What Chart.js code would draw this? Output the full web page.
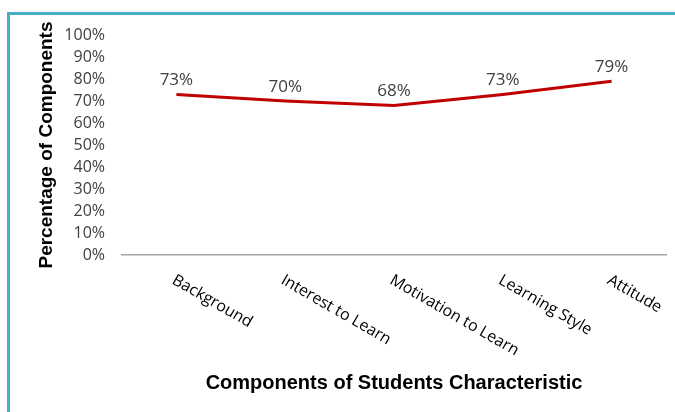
<!DOCTYPE html>
<html>
<head>
<meta charset="utf-8">
<script src="https://cdn.jsdelivr.net/npm/chart.js@4/dist/chart.umd.min.js"></script>
<style>
  html, body { margin: 0; padding: 0; background: #fff; }
  #wrap { position: relative; width: 675px; height: 412px; }
  #frame {
    position: absolute; left: 7px; top: 12px; right: 0; bottom: 0;
    border-left: 3px solid #4bacc6; border-top: 3px solid #4bacc6;
    pointer-events: none;
  }
</style>
</head>
<body>
<div id="wrap">
  <canvas id="lineChart" width="675" height="412"></canvas>
  <div id="frame"></div>
</div>
<script>
// --- data ---
const categories = ["Background", "Interest to Learn", "Motivation to Learn", "Learning Style", "Attitude"];
const percentages = [73, 70, 68, 73, 79];
const yTicks = [0, 10, 20, 30, 40, 50, 60, 70, 80, 90, 100];

const textColor = "#404040";

// value labels above each point
const valueLabels = {
  id: "valueLabels",
  afterDatasetsDraw(chart) {
    const ctx = chart.ctx;
    const meta = chart.getDatasetMeta(0);
    ctx.save();
    ctx.font = "17px 'Open Sans'";
    ctx.fillStyle = textColor;
    ctx.textAlign = "center";
    ctx.textBaseline = "middle";
    meta.data.forEach((pt, i) => {
      ctx.fillText(percentages[i] + "%", pt.x, pt.y - 14);
    });
    ctx.restore();
  }
};

// category labels slanted down to the right
const slantedLabels = {
  id: "slantedLabels",
  afterDraw(chart) {
    const ctx = chart.ctx;
    const x = chart.scales.x;
    ctx.save();
    ctx.font = "16px 'Open Sans'";
    ctx.fillStyle = "#000";
    ctx.textAlign = "left";
    ctx.textBaseline = "top";
    categories.forEach((name, i) => {
      ctx.save();
      ctx.translate(x.getPixelForValue(i) + 1, x.top + 17);
      ctx.rotate(30 * Math.PI / 180);
      ctx.fillText(name, 0, 0);
      ctx.restore();
    });
    ctx.restore();
  }
};

new Chart(document.getElementById("lineChart").getContext("2d"), {
  type: "line",
  data: {
    labels: categories,
    datasets: [{
      data: percentages,
      borderColor: "#c00000",
      borderWidth: 3,
      pointRadius: 0,
      tension: 0,
      fill: false
    }]
  },
  options: {
    responsive: false,
    animation: false,
    layout: { padding: { top: 35, right: 9, left: 0, bottom: 0 } },
    plugins: {
      legend: { display: false },
      tooltip: { enabled: false }
    },
    scales: {
      x: {
        offset: true,
        grid: { display: false, drawTicks: false },
        border: { display: true, color: "#a6a6a6", width: 1.5 },
        ticks: { display: false },
        title: {
          display: true,
          text: "Components of Students Characteristic",
          color: "#000",
          font: { family: "'Liberation Sans', Arial", size: 20, weight: "bold" },
          padding: { top: 0, bottom: 17 }
        },
        afterFit(scale) { scale.height = 157; }
      },
      y: {
        min: 0,
        max: 100,
        afterBuildTicks(scale) { scale.ticks = yTicks.map(v => ({ value: v })); },
        grid: { display: false, drawTicks: false },
        border: { display: false },
        ticks: {
          color: textColor,
          padding: 17,
          autoSkip: false,
          font: { family: "'Open Sans'", size: 16 },
          callback: v => v + "%"
        },
        title: {
          display: true,
          text: "Percentage of Components",
          color: "#000",
          font: { family: "'Liberation Sans', Arial", size: 19, weight: "bold" },
          padding: { top: 35, bottom: 0 }
        },
        afterFit(scale) { scale.width = 122; }
      }
    }
  },
  plugins: [valueLabels, slantedLabels]
});
</script>
</body>
</html>
